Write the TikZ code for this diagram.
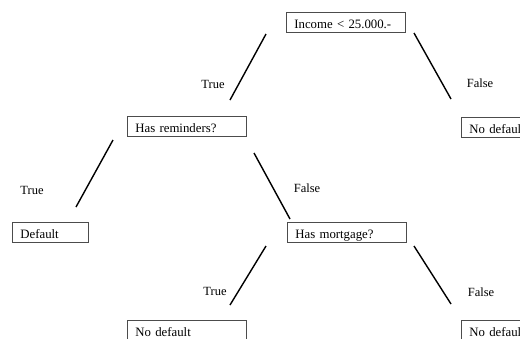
\documentclass[tikz,border=0pt]{standalone}
\usepackage{fontspec}
\setmainfont{Liberation Serif}
\tikzset{ q/.style = { draw = black!70
                       , line width   = 0.8pt
                       , anchor       = north west
                       , text width   = 103pt
                       , align        = left
                       , inner xsep   = 8pt
                       , inner ysep   = 1pt
                       , text height  = 15pt
                       , text depth   = 3pt
                       , font         = \fontsize{12.8}{14}\selectfont
                       },
            lbl/.style = { inner sep = 0pt
            , font = \fontsize{12.5}{14}\selectfont
            },
            e/.style = { line width = 1.4pt
            }
          }
\begin{document}
\begin{tikzpicture}[x=1pt,y=-1pt]
    \clip (0,0) rectangle (520,338);
    % boxes
    \node[q] (inc) at (286,12) {Income < 25.000.-};
    \node[q] (rem) at (127,116) {Has reminders?};
    \node[q] (nd1) at (461,117) {No default};
    \node[q, text width=60pt] (def) at (12,222) {Default};
    \node[q] (mort) at (287,222) {Has mortgage?};
    \node[q] (nd2) at (127,320) {No default};
    \node[q] (nd3) at (461,320) {No default};
    % line ends
    \coordinate (a1) at (266,34);  \coordinate (a2) at (230,100);
    \coordinate (b1) at (414,33);  \coordinate (b2) at (451,99);
    \coordinate (c1) at (113,140); \coordinate (c2) at (76,207);
    \coordinate (d1) at (254,153); \coordinate (d2) at (290,219);
    \coordinate (f1) at (266,246); \coordinate (f2) at (230,305);
    \coordinate (g1) at (414,246); \coordinate (g2) at (451,304);
    \draw[e] (a1) -- (a2);
    \draw[e] (b1) -- (b2);
    \draw[e] (c1) -- (c2);
    \draw[e] (d1) -- (d2);
    \draw[e] (f1) -- (f2);
    \draw[e] (g1) -- (g2);
    % labels
    \node[lbl] (t1) at (213,84) {True};
    \node[lbl] (f1l) at (480,83) {False};
    \node[lbl] (t2) at (32,190) {True};
    \node[lbl] (f2l) at (307,188) {False};
    \node[lbl] (t3) at (215,291) {True};
    \node[lbl] (f3l) at (481,292) {False};
\end{tikzpicture}
\end{document}
